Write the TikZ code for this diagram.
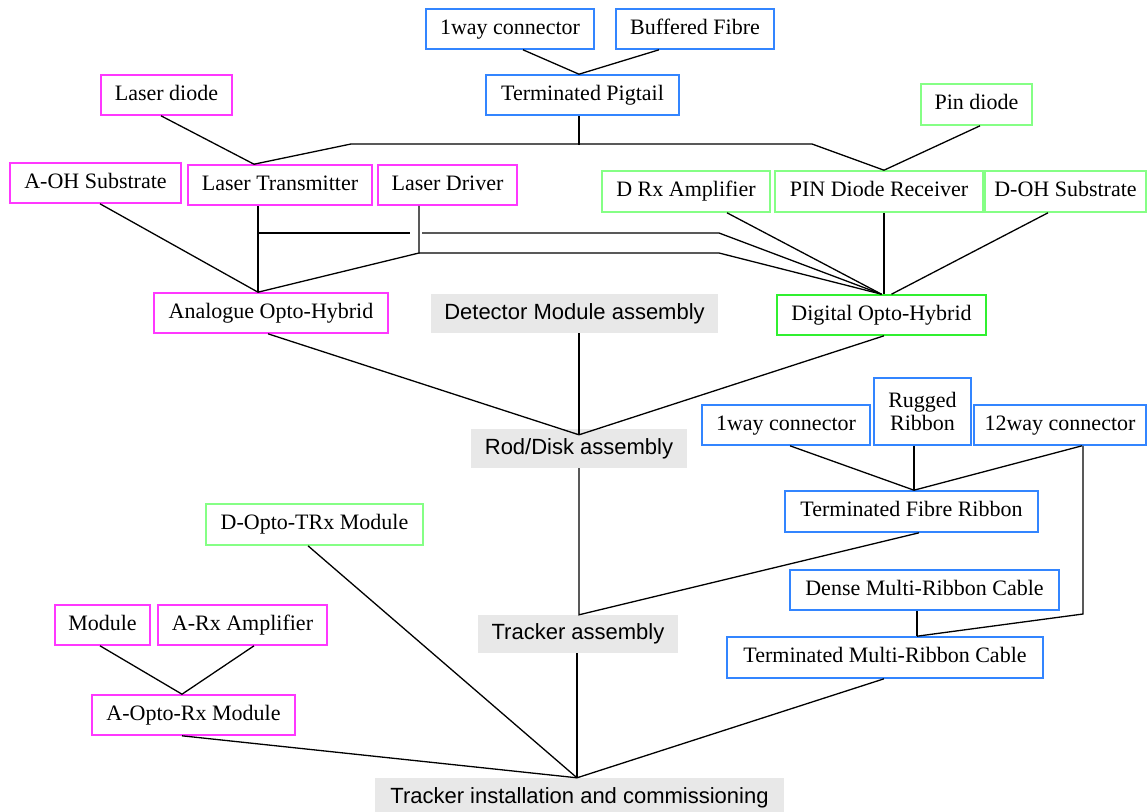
\documentclass[tikz,border=0pt]{standalone}
\usepackage{fontspec}
\setmainfont{Liberation Serif}
\setsansfont{Liberation Sans}
\definecolor{cmag}{HTML}{FF38FF}
\definecolor{cblu}{HTML}{3385FF}
\definecolor{cgrn}{HTML}{85FF85}
\definecolor{cgrd}{HTML}{30F030}
\definecolor{cgry}{HTML}{E8E8E8}
\tikzset{
  bx0/.style={draw, line width=1.6pt, fill=white, inner sep=0pt, align=center,
    font=\fontsize{22}{23}\selectfont},
  bx/.style={bx0, text height=15.5pt, text depth=5pt},
  mag/.style={bx, draw=cmag},
  blu/.style={bx, draw=cblu},
  blu2/.style={bx0, draw=cblu},
  grn/.style={bx, draw=cgrn},
  grd/.style={bx, draw=cgrd},
  gry/.style={fill=cgry, draw=none, inner sep=0pt,
    text height=16pt, text depth=4.5pt,
    font=\sffamily\fontsize{22}{23}\selectfont},
  wire/.style={draw=black, line width=1.3pt, line join=miter},
}
\newcommand{\bxn}[7]{\node[#1, minimum width=#4pt, minimum height=#5pt] (#2) at (#3) {#6};}
\begin{document}
\begin{tikzpicture}[x=1pt, y=-1pt]
\useasboundingbox (0,0) rectangle (1148,811);
% nodes
\bxn{blu}{c1}{510,29}{168}{40}{1way connector}{}
\bxn{blu}{bf}{695,29}{158}{40}{Buffered Fibre}{}
\bxn{blu}{tp}{582.5,95}{193}{40}{Terminated Pigtail}{}
\bxn{mag}{ld}{166.5,95}{131}{40}{Laser diode}{}
\bxn{grn}{pd}{976.5,104.5}{111}{41}{Pin diode}{}
\bxn{mag}{aoh}{95.5,183}{171}{40}{A-OH Substrate}{}
\bxn{mag}{lt}{280,185}{184}{40}{Laser Transmitter}{}
\bxn{mag}{ldr}{447.5,185}{139}{40}{Laser Driver}{}
\bxn{grn}{drx}{686,191.5}{168}{41}{D Rx Amplifier}{}
\bxn{grn}{pdr}{879,191.5}{208}{41}{PIN Diode Receiver}{}
\bxn{grn}{doh}{1065.5,191.5}{161}{41}{D-OH Substrate}{}
\bxn{mag}{aohy}{271,313}{234}{40}{Analogue Opto-Hybrid}{}
\bxn{gry}{dma}{574.5,313.5}{287}{39}{Detector Module assembly}{}
\bxn{grd}{doh2}{881.5,315}{209}{40}{Digital Opto-Hybrid}{}
\bxn{gry}{rda}{579,448.5}{216}{39}{Rod/Disk assembly}{}
\bxn{blu}{c2}{786,425}{168}{40}{1way connector}{}
\bxn{blu2}{rr}{922.5,411.5}{97}{67}{Rugged\\Ribbon}{}
\bxn{blu}{c12}{1060,425}{172}{40}{12way connector}{}
\bxn{blu}{tfr}{911.5,511.5}{253}{41}{Terminated Fibre Ribbon}{}
\bxn{grn}{dot}{314.5,524.5}{217}{41}{D-Opto-TRx Module}{}
\bxn{blu}{dmr}{924.5,590}{269}{40}{Dense Multi-Ribbon Cable}{}
\bxn{gry}{ta}{578,634}{200}{38}{Tracker assembly}{}
\bxn{blu}{tmrc}{885,657.5}{316}{41}{Terminated Multi-Ribbon Cable}{}
\bxn{mag}{mod}{102.5,625}{95}{40}{Module}{}
\bxn{mag}{arx}{242.5,625}{169}{40}{A-Rx Amplifier}{}
\bxn{mag}{aorx}{193.5,715}{203}{40}{A-Opto-Rx Module}{}
\bxn{gry}{tic}{579.5,797.5}{409}{39}{Tracker installation and commissioning}{}
% junction coordinates
\coordinate (j1) at ([xshift=-3.5pt]tp.north);
\coordinate (j2) at ([xshift=-3.5pt,yshift=-29pt]tp.south);
\coordinate (jl) at ([xshift=-26pt]lt.north);
\coordinate (jp) at ([xshift=5pt]pdr.north);
\coordinate (ja) at ([xshift=-13pt]aohy.north);
\coordinate (jd) at (doh2.north);
\coordinate (k1) at (351,144);
\coordinate (k2) at (812,144);
\coordinate (h1) at (258,233);
\coordinate (h2) at (410,233);
\coordinate (h3) at (422,233);
\coordinate (h4) at (719,233);
\coordinate (g1) at (419,253);
\coordinate (g2) at (719,253);
\coordinate (j3) at ([yshift=-6pt]rda.north);
\coordinate (j4) at ([xshift=1pt]ta.north);
\coordinate (j5) at ([xshift=2.5pt]tfr.north);
\coordinate (j6) at ([xshift=32pt]tmrc.north);
\coordinate (m1) at (1083,614);
\coordinate (j7) at ([xshift=-2.5pt]tic.north);
\coordinate (j8) at ([xshift=-11.5pt]aorx.north);
% connectors
\draw[wire] ([xshift=13pt]c1.south) -- (j1) -- ([xshift=-36pt]bf.south);
\draw[wire] ([xshift=-3.5pt]tp.south) -- (j2);
\draw[wire] (jl) -- (k1) -- (k2) -- (jp);
\draw[wire] ([xshift=-5.5pt]ld.south) -- (jl);
\draw[wire] ([xshift=3.5pt]pd.south) -- (jp);
\draw[wire] ([xshift=4.5pt]aoh.south) -- (ja);
\draw[wire] ([xshift=-22pt]lt.south) -- (ja);
\draw[wire] ([xshift=-28.5pt]ldr.south) -- (g1) -- (ja);
\draw[wire] (h1) -- (h2);
\draw[wire] (h3) -- (h4) -- (jd);
\draw[wire] (g1) -- (g2) -- (jd);
\draw[wire] ([xshift=41pt]drx.south) -- (jd);
\draw[wire] ([xshift=5pt]pdr.south) -- ([xshift=2.5pt]doh2.north);
\draw[wire] ([xshift=-17.5pt]doh.south) -- ([xshift=10pt]doh2.north);
\draw[wire] ([xshift=-3pt]aohy.south) -- (j3) -- ([xshift=2.5pt]doh2.south);
\draw[wire] ([xshift=4.5pt]dma.south) -- (j3);
\draw[wire] (rda.south) -- (j4) -- ([xshift=7.5pt]tfr.south);
\draw[wire] ([xshift=4pt]c2.south) -- (j5) -- ([xshift=22pt]c12.south);
\draw[wire] ([xshift=-8.5pt]rr.south) -- (j5);
\draw[wire] ([xshift=23pt]c12.south) -- (m1) -- (j6);
\draw[wire] ([xshift=-7.5pt]dmr.south) -- (j6);
\draw[wire] ([xshift=-1pt]ta.south) -- (j7);
\draw[wire] ([xshift=-11.5pt]aorx.south) -- (j7) -- ([xshift=-1pt]tmrc.south);
\draw[wire] ([xshift=-6.5pt]dot.south) -- (j7);
\draw[wire] ([xshift=-2.5pt]mod.south) -- (j8) -- ([xshift=11.5pt]arx.south);
\end{tikzpicture}
\end{document}
